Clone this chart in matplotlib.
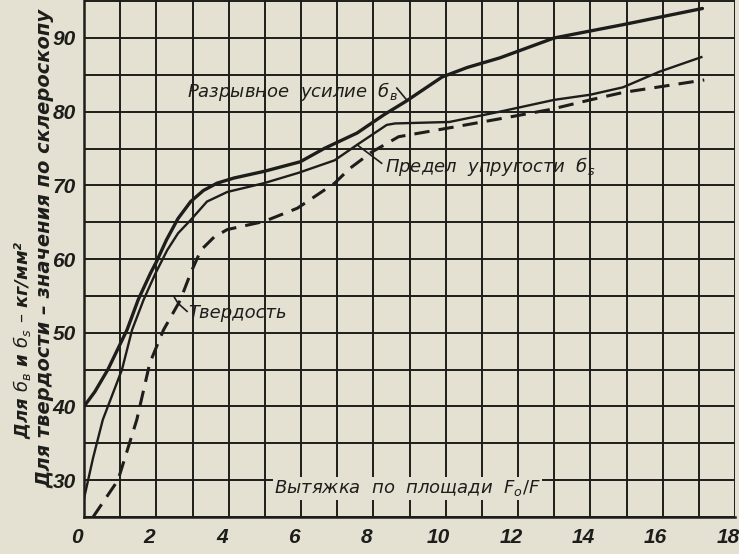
import matplotlib
matplotlib.use("Agg")
import matplotlib.pyplot as plt
from matplotlib.ticker import MultipleLocator
from matplotlib.transforms import ScaledTranslation

# values
upper_x = [0, 0.3, 0.66, 1.19, 1.5, 1.84, 2.0, 2.28, 2.6, 2.95, 3.3, 3.68, 4.15, 4.98, 5.98, 6.64, 7.55, 8.3, 8.9, 9.9, 10.6, 11.5, 13.0, 14.9, 17.1]
upper_y = [40, 42, 45, 50.4, 54.5, 58.1, 59.6, 62.6, 65.5, 67.8, 69.3, 70.3, 71, 71.9, 73.2, 75, 77.1, 79.6, 81.4, 84.7, 86, 87.3, 90, 91.8, 94]

lower_x = [0, 0.25, 0.52, 1.05, 1.33, 1.65, 1.98, 2.3, 2.6, 2.95, 3.4, 3.96, 4.98, 5.93, 6.93, 7.55, 8.37, 8.6, 10.1, 11.5, 13.0, 14.0, 14.9, 15.9, 17.07]
lower_y = [27.5, 33, 38.2, 45, 50.4, 54.5, 58.1, 61.2, 63.5, 65.3, 67.8, 69.1, 70.3, 71.7, 73.4, 75.5, 78.2, 78.4, 78.6, 80, 81.6, 82.3, 83.3, 85.4, 87.4]

hard_x = [0.25, 0.94, 1.46, 1.82, 2.2, 2.66, 2.95, 3.23, 3.6, 3.96, 4.98, 5.9, 6.93, 7.35, 7.95, 8.7, 10.1, 11.8, 12.9, 14.0, 14.9, 17.15]
hard_y = [25, 30, 38.2, 45.9, 50.4, 54.4, 58.1, 61.2, 63, 64, 65.1, 66.9, 70.3, 72.3, 74.5, 76.6, 77.8, 79.3, 80.3, 81.6, 82.6, 84.3]

x_ticks = [0, 2, 4, 6, 8, 10, 12, 14, 16, 18]
y_ticks = [30, 40, 50, 60, 70, 80, 90]

paper = "#e5e1d2"
ink = "#1d1d1b"

fig = plt.figure(figsize=(7.39, 5.54), dpi=100, facecolor=paper)
ax = fig.add_axes([84 / 739, 37 / 554, 651 / 739, 517 / 554])
ax.set_facecolor(paper)

ax.set_xlim(0, 18)
ax.set_ylim(25, 95.15)

ax.xaxis.set_minor_locator(MultipleLocator(1))
ax.yaxis.set_minor_locator(MultipleLocator(5))
ax.set_xticks(x_ticks)
ax.set_yticks(y_ticks)
ax.grid(True, which="both", color=ink, linewidth=1.4)
ax.set_axisbelow(True)
ax.tick_params(which="both", length=0)
ax.tick_params(axis="y", pad=6)
ax.tick_params(axis="x", pad=8)
shift = ScaledTranslation(-7 / 100, 0, fig.dpi_scale_trans)
for lab in ax.get_xticklabels():
    lab.set_transform(lab.get_transform() + shift)
for lab in ax.get_xticklabels() + ax.get_yticklabels():
    lab.set_family("Liberation Sans")
    lab.set_fontstyle("italic")
    lab.set_fontweight("bold")
    lab.set_fontsize(15)
    lab.set_color(ink)

for side in ["top", "right"]:
    ax.spines[side].set_visible(False)
for side in ["left", "bottom"]:
    ax.spines[side].set_color(ink)
    ax.spines[side].set_linewidth(1.8)

ax.plot(upper_x, upper_y, color=ink, linewidth=2.4, solid_capstyle="round")
ax.plot(lower_x, lower_y, color=ink, linewidth=1.7)
ax.plot(hard_x, hard_y, color=ink, linewidth=2.2, linestyle=(0, (5, 3)))

txt = dict(fontsize=13, fontstyle="italic", color=ink)
ax.text(2.85, 82.7, "Разрывное  усилие  $б_в$", va="center", ha="left", **txt)
ax.plot([8.65, 8.92], [83.2, 81.6], color=ink, linewidth=1.2)

ax.text(8.31, 72.6, "Предел  упругости  $б_s$", va="center", ha="left", **txt)
ax.plot([7.55, 8.23], [75.5, 73.0], color=ink, linewidth=1.2)

ax.text(2.87, 52.7, "Твердость", va="center", ha="left", **txt)
ax.plot([2.5, 2.6, 2.85], [54.8, 54.0, 52.9], color=ink, linewidth=1.2)

ax.text(8.95, 28.9, "Вытяжка  по  площади  $F_o/F$", va="center", ha="center",
        bbox=dict(facecolor=paper, edgecolor="none", pad=1), **txt)

fig.text(22 / 739, 214 / 554, "Для $б_в$ и $б_s$ – кг/мм²", rotation=90,
         va="center", ha="center", fontsize=13, fontstyle="italic", fontweight="bold", color=ink)
fig.text(45 / 739, 306 / 554, "Для твердости – значения по склероскопу", rotation=90,
         va="center", ha="center", fontsize=14, fontstyle="italic", fontweight="bold", color=ink)

fig.savefig("out.png", dpi=100, facecolor=paper)
